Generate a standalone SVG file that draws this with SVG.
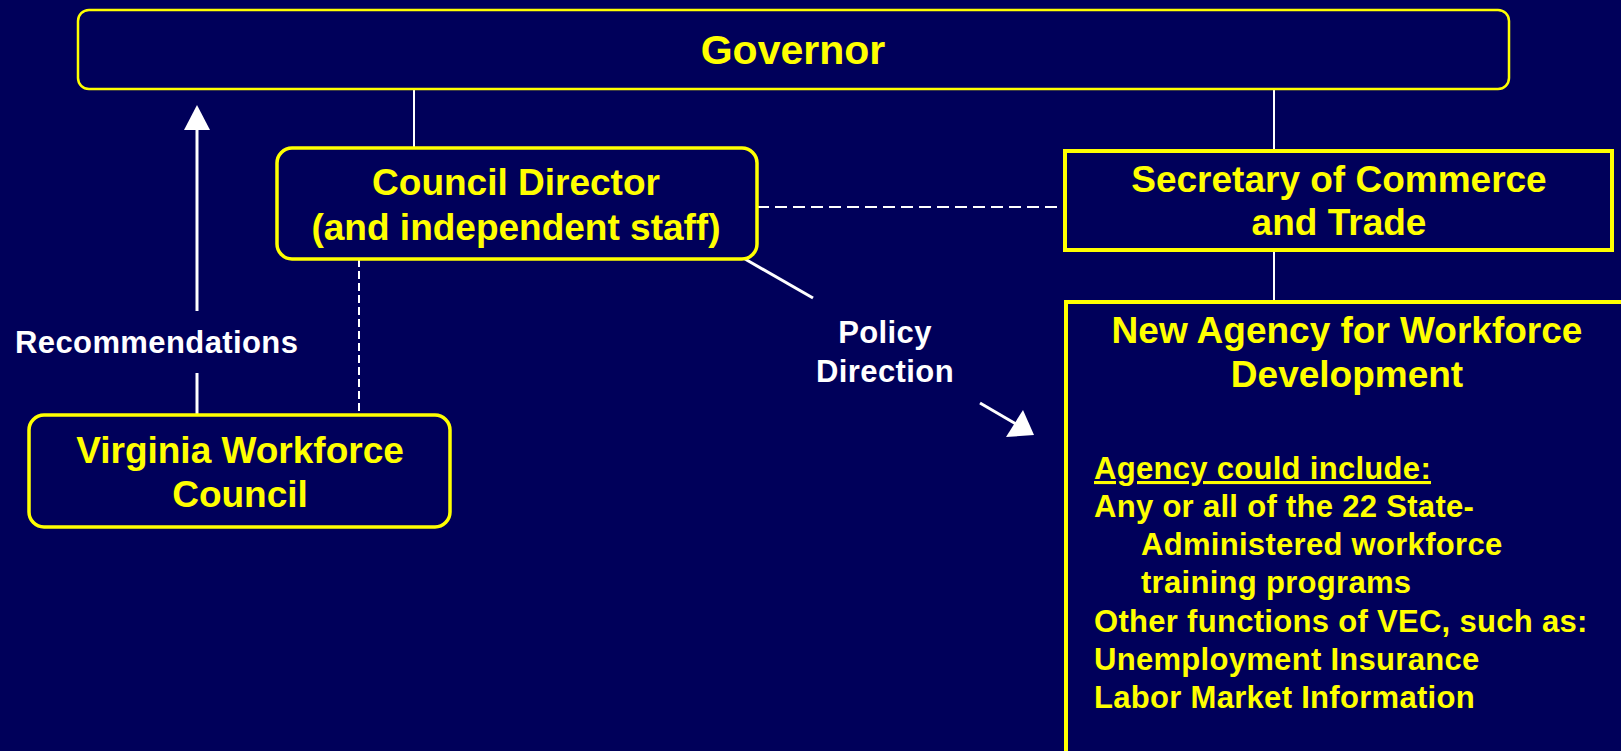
<svg xmlns="http://www.w3.org/2000/svg" width="1621" height="751" viewBox="0 0 1621 751">
<style>
.bg{fill:#00005a}
.box{fill:#00005a;stroke:#ffff00}
.t{font-family:"Liberation Sans",Arial,sans-serif;font-weight:bold;fill:#ffff00}
.w{font-family:"Liberation Sans",Arial,sans-serif;font-weight:bold;fill:#ffffff;font-size:31px;letter-spacing:0.4px}
.ln{stroke:#ffffff;fill:none}
.ah{fill:#ffffff}
</style>
<rect class="bg" x="0" y="0" width="1621" height="751"/>
<g id="connectors">
  <line class="ln" x1="414" y1="89" x2="414" y2="148" stroke-width="2"/>
  <line class="ln" x1="1274" y1="89" x2="1274" y2="151" stroke-width="2"/>
  <line class="ln" x1="1274" y1="250" x2="1274" y2="302" stroke-width="2"/>
  <line class="ln" x1="757" y1="207" x2="1065" y2="207" stroke-width="2" stroke-dasharray="12 6"/>
  <line class="ln" x1="359" y1="259" x2="359" y2="414" stroke-width="2" stroke-dasharray="8 4"/>
  <line class="ln" x1="197" y1="128" x2="197" y2="311" stroke-width="3"/>
  <line class="ln" x1="197" y1="373" x2="197" y2="415" stroke-width="3"/>
  <polygon class="ah" points="197,105 184,130 210,130"/>
  <line class="ln" x1="745" y1="259" x2="813" y2="298" stroke-width="3"/>
  <line class="ln" x1="980" y1="403" x2="1016" y2="424" stroke-width="3"/>
  <polygon class="ah" points="1034,435 1006,437 1023,410"/>
  <text class="w" x="15" y="353">Recommendations</text>
  <text class="w" x="885" y="343" text-anchor="middle">Policy</text>
  <text class="w" x="885" y="382" text-anchor="middle">Direction</text>
</g>
<g id="governor">
  <rect class="box" x="78" y="10" width="1431" height="79" rx="11" stroke-width="2.5"/>
  <text class="t" x="793" y="64" font-size="41" text-anchor="middle">Governor</text>
</g>
<g id="council-director">
  <rect class="box" x="277" y="148" width="480" height="111" rx="15" stroke-width="3.5"/>
  <text class="t" x="516" y="195" font-size="37" text-anchor="middle">Council Director</text>
  <text class="t" x="516" y="240" font-size="37" text-anchor="middle">(and independent staff)</text>
</g>
<g id="secretary">
  <rect class="box" x="1065" y="151" width="547" height="99" stroke-width="4"/>
  <text class="t" x="1339" y="192" font-size="37" text-anchor="middle">Secretary of Commerce</text>
  <text class="t" x="1339" y="235" font-size="37" text-anchor="middle">and Trade</text>
</g>
<g id="virginia-workforce-council">
  <rect class="box" x="29" y="415" width="421" height="112" rx="15" stroke-width="3.5"/>
  <text class="t" x="240" y="463" font-size="37" text-anchor="middle">Virginia Workforce</text>
  <text class="t" x="240" y="507" font-size="37" text-anchor="middle">Council</text>
</g>
<g id="new-agency">
  <rect class="box" x="1066" y="302" width="580" height="500" stroke-width="4"/>
  <text class="t" x="1347" y="343" font-size="37" text-anchor="middle">New Agency for Workforce</text>
  <text class="t" x="1347" y="387" font-size="37" text-anchor="middle">Development</text>
  <g class="t" font-size="31" letter-spacing="0.3">
    <text x="1094" y="479" text-decoration="underline">Agency could include:</text>
    <text x="1094" y="517">Any or all of the 22 State-</text>
    <text x="1141" y="555">Administered workforce</text>
    <text x="1141" y="593">training programs</text>
    <text x="1094" y="632">Other functions of VEC, such as:</text>
    <text x="1094" y="670">Unemployment Insurance</text>
    <text x="1094" y="708">Labor Market Information</text>
  </g>
</g>
</svg>
